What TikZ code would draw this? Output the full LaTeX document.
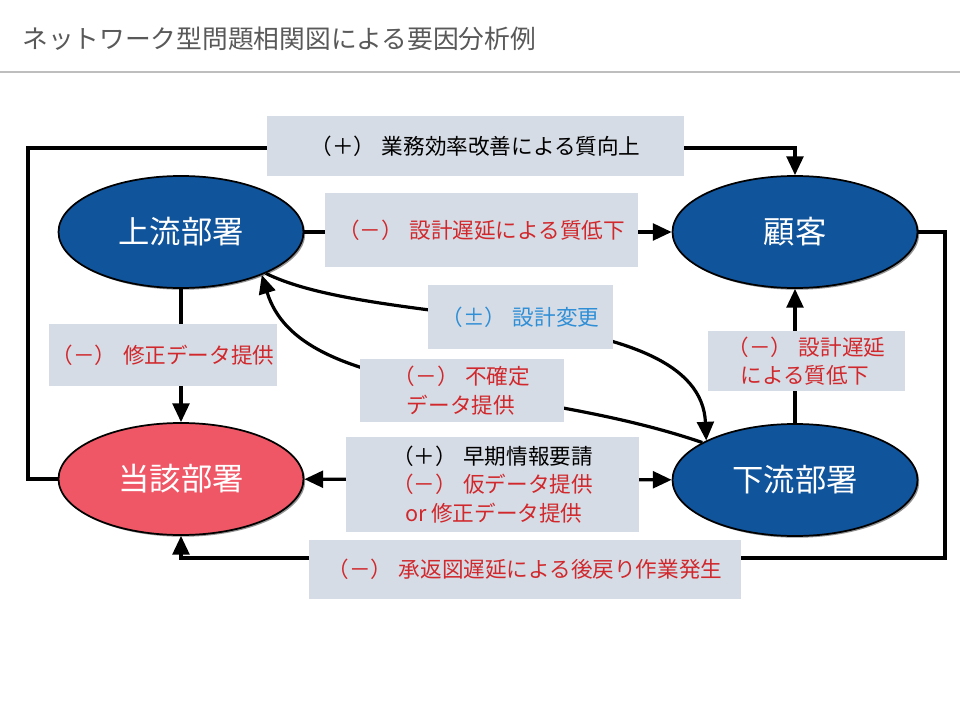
\documentclass[tikz,border=0pt]{standalone}
\usepackage{fontspec}
\newfontfamily\jp{Noto Sans CJK JP}
\usetikzlibrary{shapes.geometric,arrows.meta,shadows}
\definecolor{ellblue}{RGB}{16,84,156}
\definecolor{ellred}{RGB}{239,87,102}
\definecolor{boxfill}{RGB}{214,220,229}
\definecolor{txtred}{RGB}{208,40,44}
\definecolor{txtblue}{RGB}{46,142,214}
\definecolor{txtgray}{RGB}{89,89,89}
\definecolor{rulegray}{RGB}{190,190,190}
\newcommand\sgn[1]{（#1）\hspace{0.3em}}
\begin{document}
\begin{tikzpicture}[x=0.75pt,y=-0.75pt,
  ell/.style={ellipse, draw=black, line width=1.3pt, minimum width=183.75pt,
    minimum height=84pt, inner sep=0pt, text=white,
    font=\jp\fontsize{23.5}{28}\selectfont,
    drop shadow={opacity=0.85, shadow xshift=1.3pt, shadow yshift=-1.3pt}},
  lbl/.style={fill=boxfill, inner sep=0pt, align=left,
    font=\jp\fontsize{16.2}{21.5}\selectfont},
  conn/.style={line width=2.4pt, draw=black},
  arr/.style={conn, -{Triangle[width=12.5pt,length=14pt]}},
  darr/.style={conn, {Triangle[width=12.5pt,length=14pt]}-{Triangle[width=12.5pt,length=14pt]}}]
\useasboundingbox (0,0) rectangle (960,720);
\fill[white] (0,0) rectangle (960,720);
% title
\node[anchor=west, inner sep=0pt, text=txtgray, font=\jp\fontsize{19.3}{23}\selectfont] (title) at (22,39) {ネットワーク型問題相関図による要因分析例};
\draw[rulegray, line width=1.6pt] (0,72) -- (960,72);
% departments
\node[ell, fill=ellblue] (up) at (181,232) {上流部署};
\node[ell, fill=ellblue] (kk) at (795,232) {顧客};
\node[ell, fill=ellred]  (td) at (181,479) {当該部署};
\node[ell, fill=ellblue] (dn) at (795,480) {下流部署};
% helper corners
\coordinate (c1) at (28,148);
\coordinate (c2) at (945,558);
% connectors
\draw[arr] (td.west) -| (c1) -| (kk.north);
\draw[arr] (up) -- (kk);
\draw[arr] (up) -- (td);
\draw[arr] (kk.east) -| (c2) -| (td.south);
\draw[arr] (dn) -- (kk);
\draw[darr] (td) -- (dn);
\draw[arr] (up.-26) .. controls (380,330) and (700,300) .. (dn.156);
\draw[arr] (dn.158) .. controls (520,380) and (300,400) .. (up.-28);
% labels
\node[lbl, minimum width=312.75pt, minimum height=45pt] (l1) at (475.5,146) {\sgn{＋}業務効率改善による質向上};
\node[lbl, minimum width=234.75pt, minimum height=55.5pt, text=txtred] (l2) at (481.5,230) {\sgn{－}設計遅延による質低下};
\node[lbl, minimum width=138.75pt, minimum height=48pt, text=txtblue] (l3) at (520.5,317) {\sgn{±}設計変更};
\node[lbl, minimum width=153pt, minimum height=47.25pt, text=txtred] (l4) at (462,390.5) {\sgn{－}不確定\\\hspace{0.6em}データ提供};
\node[lbl, minimum width=171pt, minimum height=46.5pt, text=txtred] (l5) at (163,355) {\sgn{－}修正データ提供};
\node[lbl, minimum width=219.75pt, minimum height=71.25pt] (l6) at (492.5,484.5) {\sgn{＋}早期情報要請\\\textcolor{txtred}{\sgn{－}仮データ提供}\\\textcolor{txtred}{\hspace{0.6em}or 修正データ提供}};
\node[lbl, minimum width=324pt, minimum height=44.25pt, text=txtred] (l7) at (525,569.5) {\sgn{－}承返図遅延による後戻り作業発生};
\node[lbl, minimum width=147.75pt, minimum height=45pt, text=txtred] (l8) at (806.5,361) {\sgn{－}設計遅延\\\hspace{0.6em}による質低下};
\end{tikzpicture}
\end{document}
